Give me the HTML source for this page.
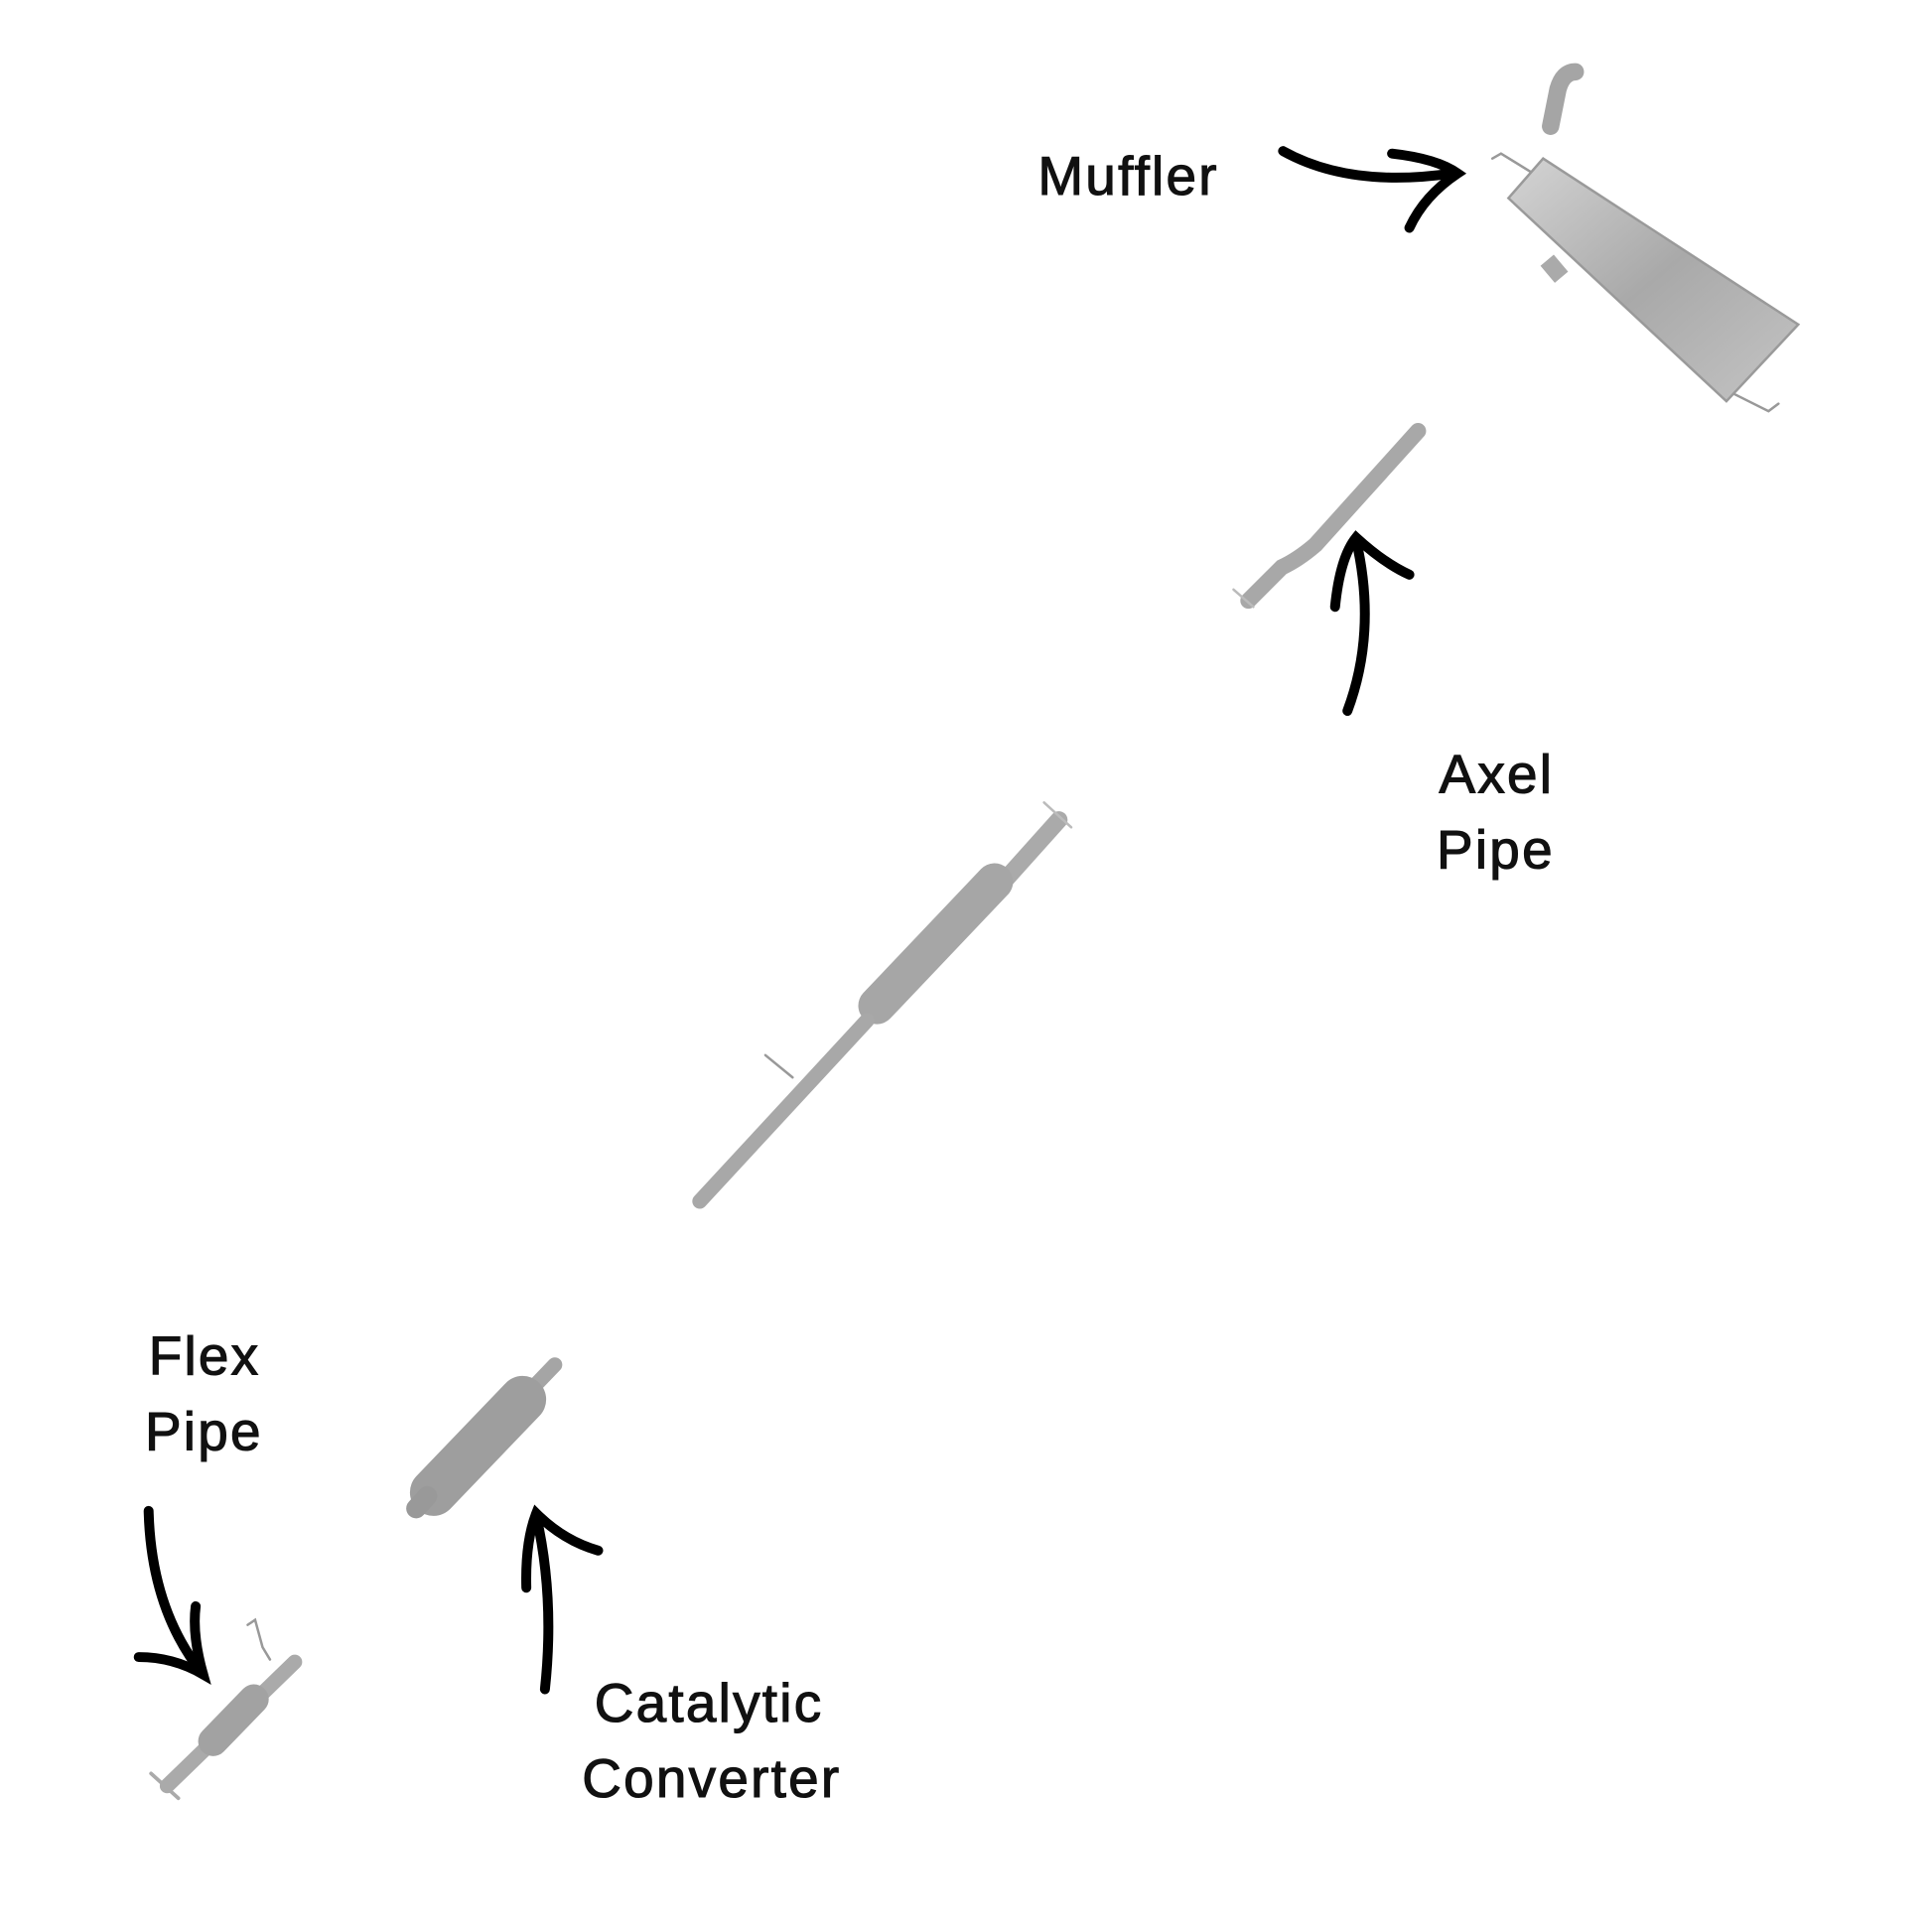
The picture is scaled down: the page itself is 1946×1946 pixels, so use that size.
<!DOCTYPE html>
<html><head><meta charset="utf-8"><style>
html,body{margin:0;padding:0;background:#fff;}
svg{display:block;}
text{font-family:"Liberation Sans",sans-serif;font-size:44px;fill:#111;stroke:#111;stroke-width:0.9;letter-spacing:1.8px;}
</style></head><body>
<svg width="1946" height="1946" viewBox="0 0 1560 1560" xmlns="http://www.w3.org/2000/svg">
<defs>
<linearGradient id="g" x1="0" y1="0" x2="1" y2="1">
<stop offset="0" stop-color="#d4d4d4"/><stop offset="0.5" stop-color="#a9a9a9"/><stop offset="1" stop-color="#c4c4c4"/>
</linearGradient>
</defs>
<g stroke-linecap="round" fill="none">
<!-- Muffler -->
<path d="M1252,102 L1258,72 Q1262,58 1272,58" stroke="#a5a5a5" stroke-width="14"/>
<path d="M1205,128 L1212,124 L1238,140" stroke="#999" stroke-width="2"/>
<path d="M1400,318 L1428,332 L1436,326" stroke="#999" stroke-width="2"/>
<rect x="1248" y="208" width="14" height="18" fill="#aaa" stroke="none" transform="rotate(-40 1255 217)"/>
<polygon points="1218,160 1246,128 1452,262 1394,324" fill="url(#g)" stroke="#9a9a9a" stroke-width="2"/>
<!-- Axel pipe -->
<path d="M1145,348 L1062,440 Q1048,452 1035,458 L1008,485" stroke="#a8a8a8" stroke-width="13"/>
<path d="M996,476 L1012,490" stroke="#bbb" stroke-width="2"/>
<!-- Middle pipe -->
<path d="M855,662 L812,710" stroke="#aaa" stroke-width="14"/>
<path d="M803,712 L708,812" stroke="#a6a6a6" stroke-width="30"/>
<path d="M700,824 L565,970" stroke="#a8a8a8" stroke-width="12"/>
<path d="M618,852 L640,870" stroke="#999" stroke-width="2"/>
<path d="M843,648 L865,668" stroke="#bbb" stroke-width="2"/>
<!-- Catalytic -->
<path d="M448,1102 L425,1126" stroke="#a5a5a5" stroke-width="12"/>
<path d="M422,1130 L350,1205" stroke="#9e9e9e" stroke-width="38"/>
<path d="M345,1208 L336,1218" stroke="#999" stroke-width="16"/>
<!-- Flex pipe -->
<path d="M200,1312 L206,1308 L212,1330 L218,1340" stroke="#999" stroke-width="2"/>
<path d="M238,1342 L135,1442" stroke="#aaa" stroke-width="12"/>
<path d="M205,1372 L172,1406" stroke="#a2a2a2" stroke-width="24"/>
<path d="M122,1432 L144,1452" stroke="#aaa" stroke-width="3"/>
<!-- Arrows -->
<g stroke="#000" stroke-width="8">
<path d="M1036,122 Q1090,152 1172,140"/>
<path d="M1124,124 Q1160,128 1177,140 Q1150,158 1138,184"/>
<path d="M1088,574 Q1112,510 1095,436"/>
<path d="M1078,490 Q1082,450 1095,434 Q1118,455 1138,464"/>
<path d="M440,1364 Q448,1290 433,1224"/>
<path d="M425,1282 Q424,1245 433,1222 Q455,1244 483,1252"/>
<path d="M120,1220 Q122,1300 164,1352"/>
<path d="M112,1338 Q140,1338 164,1352 Q155,1320 158,1297"/>
</g>
</g>
<text x="838" y="157">Muffler</text>
<text x="1162" y="640">Axel</text>
<text x="1160" y="701">Pipe</text>
<text x="120" y="1110">Flex</text>
<text x="117" y="1171">Pipe</text>
<text x="480" y="1390">Catalytic</text>
<text x="470" y="1451">Converter</text>
</svg>
</body></html>
